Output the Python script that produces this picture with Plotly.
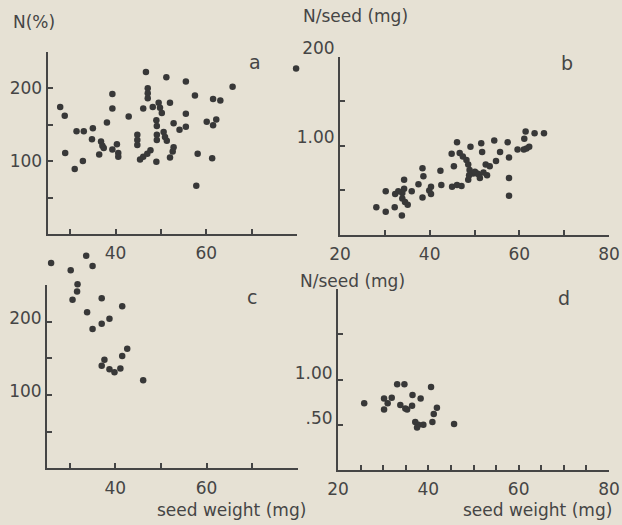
import plotly.graph_objects as go

# ---------------- data ----------------
# panel a: N (%) vs seed weight (mg)
a_x = [46.7, 51.2, 39.3, 47.1, 47.1, 47.1, 27.8, 28.8, 39.3, 46.1, 48.2, 49.5, 49.8, 50.2,
       42.9, 38.1, 49.0, 49.1, 31.4, 33.0, 35.0, 34.8, 36.8, 37.1, 37.4, 40.3, 39.3, 40.6,
       40.6, 44.8, 44.8, 44.8, 49.1, 49.1, 50.6, 50.9, 51.3, 28.9, 36.4, 45.4, 46.1, 47.0,
       47.7, 49.0, 32.8, 31.0, 79.8, 55.5, 65.8, 57.5, 61.5, 63.1, 52.0, 55.5, 52.8, 54.1,
       55.5, 60.1, 62.2, 61.5, 52.8, 52.6, 52.0, 58.1, 61.3, 57.8]
a_y = [222, 215, 192, 200, 193, 186, 174, 162, 172, 172, 174, 180, 173, 166,
       161, 153, 156, 148, 141, 141, 145, 130, 127, 121, 118, 123, 116, 111,
       106, 136, 129, 122, 136, 129, 140, 133, 128, 111, 109, 102, 106, 110,
       115, 99, 100, 89, 227, 209, 202, 190, 185, 183, 180, 165, 152, 143,
       147, 154, 157, 149, 119, 113, 105, 110, 104, 66]

# panel b: N per seed (mg) vs seed weight (mg)
b_x = [46.1, 49.1, 51.5, 44.9, 46.7, 47.4, 48.2, 48.6, 48.9, 48.8, 48.6, 49.7, 50.6, 45.4,
       42.4, 38.4, 38.6, 42.6, 45.0, 46.1, 47.1, 40.3, 39.9, 40.3, 37.5, 38.4, 36.0, 34.3,
       34.3, 33.9, 33.9, 34.5, 35.1, 33.0, 32.3, 30.2, 32.2, 28.1, 30.2, 33.8,
       61.4, 63.4, 65.5, 61.1, 54.4, 57.4, 51.7, 55.7, 59.6, 61.0, 61.6, 62.2, 57.7, 54.8,
       52.5, 53.4, 50.1, 51.0, 52.0, 52.8, 51.2, 57.7, 57.7]
b_y = [1.04, 0.99, 1.03, 0.91, 0.92, 0.88, 0.84, 0.79, 0.73, 0.67, 0.62, 0.69, 0.69, 0.77,
       0.72, 0.75, 0.66, 0.56, 0.54, 0.56, 0.55, 0.54, 0.50, 0.46, 0.57, 0.42, 0.49, 0.62,
       0.52, 0.47, 0.41, 0.37, 0.34, 0.49, 0.46, 0.49, 0.31, 0.31, 0.26, 0.22,
       1.16, 1.14, 1.14, 1.08, 1.06, 1.04, 0.93, 0.93, 0.96, 0.96, 0.97, 0.99, 0.87, 0.83,
       0.79, 0.77, 0.71, 0.68, 0.70, 0.67, 0.64, 0.64, 0.44]

# panel c: N (%) vs seed weight (mg)
c_x = [25.9, 33.6, 35.0, 30.2, 31.7, 31.6, 30.6, 37.0, 41.5, 33.8, 38.7, 37.0, 35.0,
       42.6, 41.5, 37.6, 37.0, 38.7, 39.8, 41.1, 46.1]
c_y = [280, 290, 276, 270, 251, 241, 230, 232, 221, 213, 204, 197, 190,
       163, 153, 148, 140, 135, 131, 136, 120]

# panel d: N per seed (mg) vs seed weight (mg)
d_x = [25.8, 33.1, 34.7, 40.6, 36.5, 38.3, 30.2, 31.9, 31.0, 30.2, 33.8, 34.9, 35.3,
       36.4, 41.9, 41.2, 37.1, 37.8, 38.9, 37.5, 40.9, 45.7]
d_y = [0.74, 0.95, 0.95, 0.92, 0.83, 0.79, 0.79, 0.80, 0.74, 0.67, 0.72, 0.68, 0.67,
       0.71, 0.69, 0.62, 0.53, 0.50, 0.50, 0.47, 0.53, 0.51]

# tick labels
pct_tickvals = [50, 100, 150, 200, 250]
pct_ticktext = ["", "100", "", "200", ""]
b_tickvals = [0.5, 1.0, 1.5, 2.0]
b_ticktext = ["", "1.00", "", "200"]
d_ticktext = [".50", "1.00", "", ""]
ac_xvals = [30, 40, 50, 60, 70]
ac_xtext = ["", "40", "", "60", ""]
b_xvals = [20, 30, 40, 50, 60, 70, 80]
b_xtext = ["20", "", "40", "", "60", "", "80"]
d_xvals = [20, 25, 30, 35, 40, 45, 50, 55, 60, 65, 70, 75, 80]
d_xtext = ["20", "", "", "", "40", "", "", "", "60", "", "", "", "80"]

# ---------------- style ----------------
W, H = 622, 525
BG = "#e6e1d4"
INK = "#454545"
DOT = "#383838"
FONT = "DejaVu Sans"


def px(x0, x1):
    return [x0 / W, x1 / W]


def py(top, bottom):
    return [1 - bottom / H, 1 - top / H]


# panel c: the drawn axis spans 0..250 between these pixel rows; the data layer
# uses an invisible twin axis with the same scale that reaches higher, so the
# points printed above the axis top are kept
C_TOP, C_BOT, C_DATA_TOP = 285.0, 468.3, 248.0
c_data_max = 250 * (C_BOT - C_DATA_TOP) / (C_BOT - C_TOP)

fig = go.Figure()
marker = dict(color=DOT, size=6.5)
fig.add_trace(go.Scatter(x=a_x, y=a_y, mode="markers", marker=marker,
                         xaxis="x", yaxis="y", cliponaxis=False, showlegend=False))
fig.add_trace(go.Scatter(x=b_x, y=b_y, mode="markers", marker=marker,
                         xaxis="x2", yaxis="y2", cliponaxis=False, showlegend=False))
# empty trace so that the drawn axes of panel c form a subplot
fig.add_trace(go.Scatter(x=[None], y=[None], mode="markers", xaxis="x3", yaxis="y3",
                         showlegend=False, hoverinfo="skip"))
fig.add_trace(go.Scatter(x=c_x, y=c_y, mode="markers", marker=marker,
                         xaxis="x3", yaxis="y5", cliponaxis=False, showlegend=False))
fig.add_trace(go.Scatter(x=d_x, y=d_y, mode="markers", marker=marker,
                         xaxis="x4", yaxis="y4", cliponaxis=False, showlegend=False))

common = dict(showline=True, linecolor=INK, linewidth=2, ticks="inside", ticklen=5,
              tickwidth=2, tickcolor=INK, showgrid=False, zeroline=False,
              automargin=False,
              tickfont=dict(family=FONT, size=17, color=INK), fixedrange=True)
xcommon = dict(common, ticklabelstandoff=3)

fig.update_layout(
    width=W, height=H,
    margin=dict(l=0, r=0, t=0, b=0, pad=0),
    paper_bgcolor=BG, plot_bgcolor="rgba(0,0,0,0)",
    font=dict(family=FONT, color=INK),
    xaxis=dict(xcommon, domain=px(47.5, 297), range=[25, 80], anchor="y",
               tickvals=ac_xvals, ticktext=ac_xtext),
    yaxis=dict(common, domain=py(51.7, 234), range=[0, 250], anchor="x",
               tickvals=pct_tickvals, ticktext=pct_ticktext),
    xaxis2=dict(xcommon, domain=px(340, 609), range=[20, 80], anchor="y2",
                tickvals=b_xvals, ticktext=b_xtext),
    yaxis2=dict(common, domain=py(56.7, 235), range=[0, 2.0], anchor="x2",
                tickvals=b_tickvals, ticktext=b_ticktext, ticklabelshift=-9),
    xaxis3=dict(xcommon, domain=px(47, 297.7), range=[25, 80], anchor="y3",
                tickvals=ac_xvals, ticktext=ac_xtext),
    yaxis3=dict(common, domain=py(C_TOP, C_BOT), range=[0, 250], anchor="x3",
                tickvals=pct_tickvals, ticktext=pct_ticktext, ticklabelshift=-4),
    yaxis5=dict(domain=py(C_DATA_TOP, C_BOT), range=[0, c_data_max], anchor="x3",
                visible=False, fixedrange=True, automargin=False),
    xaxis4=dict(xcommon, domain=px(338, 609), range=[20, 80], anchor="y4",
                tickvals=d_xvals, ticktext=d_xtext),
    yaxis4=dict(common, domain=py(289.3, 470), range=[0, 2.0], anchor="x4",
                tickvals=b_tickvals, ticktext=d_ticktext, ticklabelshift=-7),
)


def label(text, x, y, size=17):
    fig.add_annotation(text=text, x=x / W, y=1 - y / H, xref="paper", yref="paper",
                       showarrow=False, xanchor="center", yanchor="middle",
                       font=dict(family=FONT, size=size, color=INK))


label("N(%)", 34, 22)
label("N/seed (mg)", 355, 16)
label("N/seed (mg)", 352, 281)
label("seed weight (mg)", 231, 510)
label("seed weight (mg)", 537, 510)
label("a", 255, 62, 19)
label("b", 567, 63, 19)
label("c", 252, 297, 19)
label("d", 564, 298, 19)

fig.write_html("out.html", config={"displayModeBar": False})

# remove the browser's default page margin so the figure sits at the window origin
with open("out.html", "r", encoding="utf-8") as fh:
    html = fh.read()
html = html.replace("<head>", "<head><style>html,body{margin:0;padding:0;overflow:hidden;}</style>", 1)
with open("out.html", "w", encoding="utf-8") as fh:
    fh.write(html)
